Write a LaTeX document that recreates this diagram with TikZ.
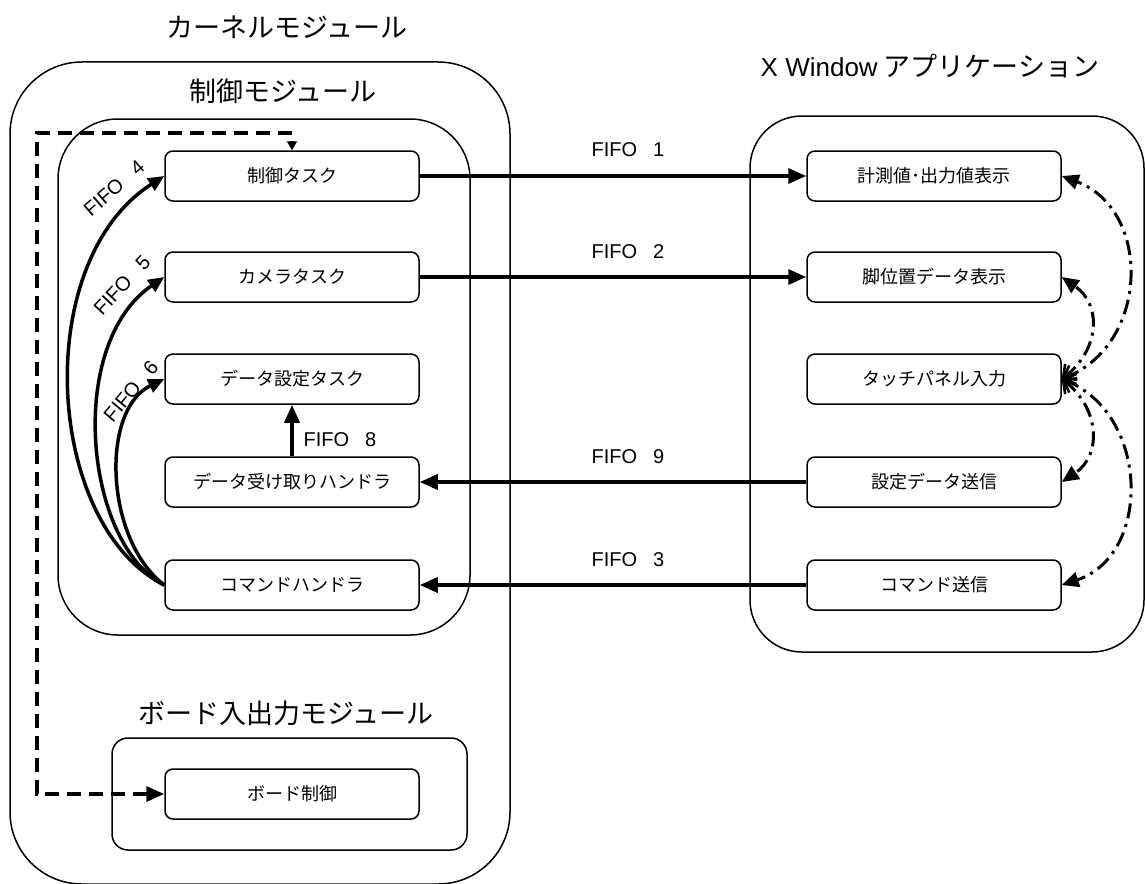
\documentclass[tikz,border=0pt]{standalone}
\usepackage{fontspec}
\setmainfont{Liberation Sans}
\newfontfamily\jp{Noto Sans CJK JP}
\usetikzlibrary{arrows.meta}
\begin{document}
\begin{tikzpicture}[x=1pt,y=-1pt,
  module/.style={draw, line width=1.5pt},
  box/.style={draw, line width=1.5pt, rounded corners=8pt, minimum width=254pt, minimum height=50pt, inner sep=0pt, font=\jp\fontsize{18}{20}\selectfont},
  title/.style={font=\jp\fontsize{27}{30}\selectfont, inner sep=0pt},
  lbl/.style={font=\fontsize{20}{22}\selectfont, inner sep=0pt},
  fifo/.style={line width=3.5pt, -{Triangle[length=18pt,width=15pt]}},
  curvearrow/.style={line width=3.5pt, -{Triangle[length=16pt,width=14pt]}},
  dsh/.style={line width=3.5pt, dash pattern=on 14pt off 8pt, {Triangle[length=18pt,width=15pt]}-{Triangle[length=9pt,width=10pt]}},
  dd/.style={line width=3pt, dash pattern=on 15pt off 6pt on 3pt off 6pt, {Straight Barb[length=10pt,width=20pt,line width=2.6pt]}-{Triangle[length=17pt,width=15pt]}}
]
\useasboundingbox (0,0) rectangle (1145,883);

% module frames
\draw[module, rounded corners=72pt] (10,62) rectangle (510,884);
\draw[module, rounded corners=60pt] (58,119) rectangle (470,635);
\draw[module, rounded corners=16pt] (112,738) rectangle (467,850);
\draw[module, rounded corners=52pt] (750,116) rectangle (1144,652);

% titles
\node[title] (tk) at (287,27) {カーネルモジュール};
\node[title] (tc) at (283,91) {制御モジュール};
\node[title] (tb) at (286,713) {ボード入出力モジュール};
\node[title] (tx) at (930,66) {{\fontspec{Liberation Sans}\fontsize{26}{30}\selectfont X Window} アプリケーション};

% left nodes
\node[box] (ct)  at (292,176) {制御タスク};
\node[box] (cam) at (292,277) {カメラタスク};
\node[box] (ds)  at (292,379) {データ設定タスク};
\node[box] (dr)  at (292,482) {データ受け取りハンドラ};
\node[box] (ch)  at (292,585) {コマンドハンドラ};
\node[box] (bc)  at (292,794) {ボード制御};

% right nodes
\node[box] (m)   at (934,176) {計測値･出力値表示};
\node[box] (leg) at (934,277) {脚位置データ表示};
\node[box] (tp)  at (934,379) {タッチパネル入力};
\node[box] (sd)  at (934,482) {設定データ送信};
\node[box] (cs)  at (934,585) {コマンド送信};

% FIFO connectors
\draw[fifo] (ct.east) -- (m.west);
\draw[fifo] (cam.east) -- (leg.west);
\draw[fifo] (sd.west) -- (dr.east);
\draw[fifo] (cs.west) -- (ch.east);
\draw[fifo] (dr.north) -- (ds.south);

\node[lbl] (l1) at (628,150) {FIFO\hspace{0.8em}1};
\node[lbl] (l2) at (628,252) {FIFO\hspace{0.8em}2};
\node[lbl] (l9) at (628,457) {FIFO\hspace{0.8em}9};
\node[lbl] (l3) at (628,560) {FIFO\hspace{0.8em}3};
\node[lbl] (l8) at (340,440) {FIFO\hspace{0.8em}8};

% curved FIFO connectors
\draw[curvearrow] (ch.west) .. controls (45,525) and (30,262) .. (ct.west);
\draw[curvearrow] (ch.west) .. controls (85,545) and (65,345) .. (cam.west);
\draw[curvearrow] (ch.west) .. controls (105,540) and (100,410) .. (ds.west);

\node[lbl, rotate=41] (l4) at (114,188) {FIFO\hspace{0.8em}4};
\node[lbl, rotate=47] (l5) at (122,285) {FIFO\hspace{0.8em}5};
\node[lbl, rotate=50] (l6) at (131,391) {FIFO\hspace{0.8em}6};

% dashed control line
\coordinate (dtl) at (37,133);
\draw[dsh] (bc.west) -| (dtl) -| (ct.north);

% dash-dot touch panel connectors
\draw[dd] (tp.east) .. controls (1150,345) and (1152,210) .. (m.east);
\draw[dd] (tp.east) .. controls (1100,350) and (1102,305) .. (leg.east);
\draw[dd] (tp.east) .. controls (1100,408) and (1102,455) .. (sd.east);
\draw[dd] (tp.east) .. controls (1150,413) and (1152,555) .. (cs.east);
\end{tikzpicture}
\end{document}
